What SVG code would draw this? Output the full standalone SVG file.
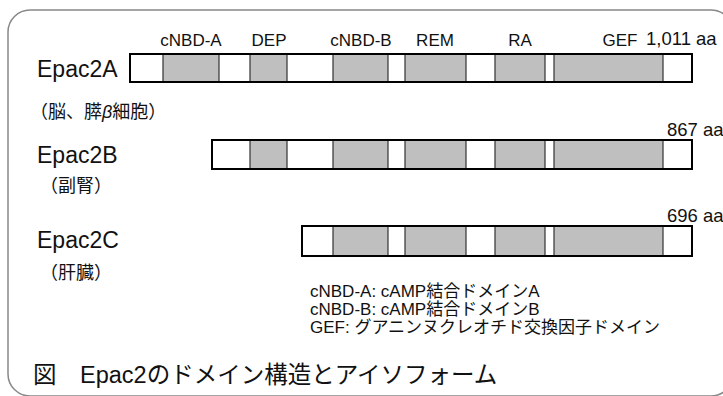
<svg xmlns="http://www.w3.org/2000/svg" width="723" height="396" viewBox="0 0 723 396">
<style>
.t{font-family:"Liberation Sans","Noto Sans CJK JP",sans-serif;fill:#111}
.name{font-size:23px}
.lab{font-size:17px;text-anchor:middle}
.aa{font-size:18.5px}
.sub{font-size:18px}
.leg{font-size:17px}
.cap{font-size:23.5px}
.bar{fill:#fff;stroke:#000;stroke-width:2}
.dom{fill:#bfbfbf;stroke:#333;stroke-width:1.2}
</style>
<rect x="8" y="10" width="725" height="386" rx="22" fill="#fff" stroke="#888" stroke-width="1.5"/>
<g id="labels">
<text class="t lab" x="191" y="46">cNBD-A</text>
<text class="t lab" x="269" y="46">DEP</text>
<text class="t lab" x="361" y="46">cNBD-B</text>
<text class="t lab" x="435" y="46">REM</text>
<text class="t lab" x="520" y="46">RA</text>
<text class="t lab" x="620" y="46">GEF</text>
</g>
<g id="epac2a">
<text class="t name" x="37" y="77">Epac2A</text>
<rect class="bar" x="130" y="54" width="562" height="28"/>
<rect class="dom" x="163" y="54" width="56" height="28"/>
<rect class="dom" x="250" y="54" width="37" height="28"/>
<rect class="dom" x="333" y="54" width="55" height="28"/>
<rect class="dom" x="405" y="54" width="61" height="28"/>
<rect class="dom" x="495" y="54" width="50" height="28"/>
<rect class="dom" x="554" y="54" width="109" height="28"/>
<rect x="130" y="54" width="562" height="28" fill="none" stroke="#000" stroke-width="2"/>
<text class="t aa" x="646" y="45">1,011 aa</text>
<text class="t sub" x="30" y="118">（脳、膵<tspan font-style="italic">β</tspan>細胞）</text>
</g>
<g id="epac2b">
<text class="t name" x="37" y="163">Epac2B</text>
<rect class="bar" x="212" y="140" width="480" height="29"/>
<rect class="dom" x="250" y="140" width="37" height="29"/>
<rect class="dom" x="333" y="140" width="55" height="29"/>
<rect class="dom" x="405" y="140" width="61" height="29"/>
<rect class="dom" x="495" y="140" width="50" height="29"/>
<rect class="dom" x="554" y="140" width="109" height="29"/>
<rect x="212" y="140" width="480" height="29" fill="none" stroke="#000" stroke-width="2"/>
<text class="t aa" x="667" y="136">867 aa</text>
<text class="t sub" x="40" y="192">（副腎）</text>
</g>
<g id="epac2c">
<text class="t name" x="37" y="248">Epac2C</text>
<rect class="bar" x="302" y="226" width="390" height="30"/>
<rect class="dom" x="333" y="226" width="55" height="30"/>
<rect class="dom" x="405" y="226" width="61" height="30"/>
<rect class="dom" x="495" y="226" width="50" height="30"/>
<rect class="dom" x="554" y="226" width="109" height="30"/>
<rect x="302" y="226" width="390" height="30" fill="none" stroke="#000" stroke-width="2"/>
<text class="t aa" x="667" y="222">696 aa</text>
<text class="t sub" x="40" y="279">（肝臓）</text>
</g>
<g id="legend">
<text class="t leg" x="310" y="297">cNBD-A: cAMP結合ドメインA</text>
<text class="t leg" x="310" y="315">cNBD-B: cAMP結合ドメインB</text>
<text class="t leg" x="310" y="333">GEF: グアニンヌクレオチド交換因子ドメイン</text>
</g>
<g id="caption">
<text class="t cap" x="33" y="383">図　Epac2のドメイン構造とアイソフォーム</text>
</g>
<g id="connectors"/>
</svg>
